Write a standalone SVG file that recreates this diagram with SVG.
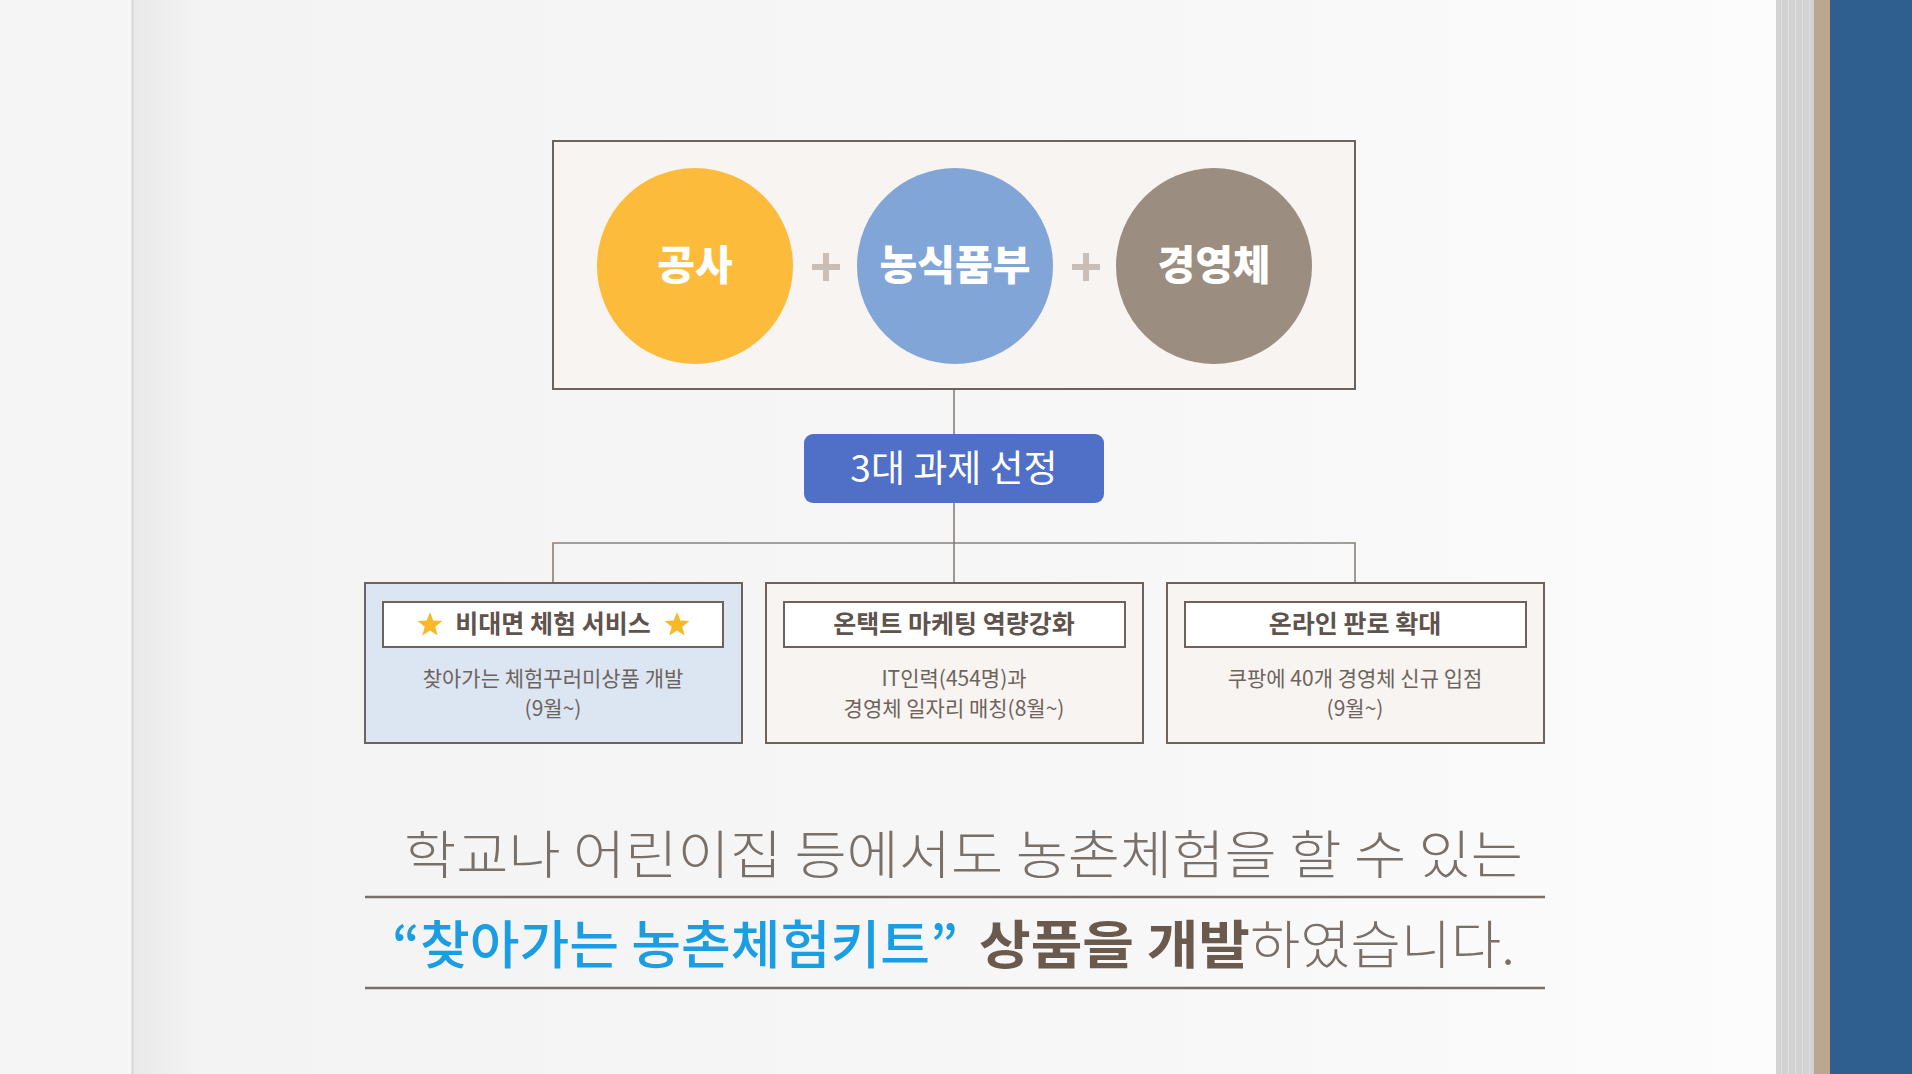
<svg xmlns="http://www.w3.org/2000/svg" width="1912" height="1074" viewBox="0 0 1912 1074">
<defs>
<style>
.ko{font-family:"Noto Sans CJK KR","Noto Sans",sans-serif}
.circ{font-weight:900;font-size:41px;fill:#ffffff;text-anchor:middle}
.frame{fill:#f8f4f1;stroke:#6e625c;stroke-width:2}
.inner{fill:#ffffff;stroke:#6e625c;stroke-width:2}
.title{font-weight:700;font-size:25px;fill:#5e534d;text-anchor:middle}
.body{font-weight:400;font-size:21px;fill:#6e635c;text-anchor:middle}
.conn{fill:none;stroke:#8a7f78;stroke-width:1.6}
.plus{stroke:#c9beb5;stroke-width:6;stroke-linecap:butt}
.star{fill:#f7b928}
.rule{stroke:#7a6e67;stroke-width:2.5}
</style>
<linearGradient id="pageg" x1="0" y1="0" x2="1" y2="0">
<stop offset="0" stop-color="#e9e9e9"/>
<stop offset="0.04" stop-color="#f3f3f3"/>
<stop offset="0.6" stop-color="#f7f7f7"/>
<stop offset="1" stop-color="#fcfcfc"/>
</linearGradient>
</defs>

<!-- background -->
<rect x="0" y="0" width="1912" height="1074" fill="#f5f5f5"/>
<rect x="132" y="0" width="1644" height="1074" fill="url(#pageg)"/>
<line x1="132.5" y1="0" x2="132.5" y2="1074" stroke="#d6d6d6" stroke-width="2"/>
<rect x="1776" y="0" width="38" height="1074" fill="#d2d2d2"/>
<g stroke="#e0e0e0" stroke-width="1">
<line x1="1781.5" y1="0" x2="1781.5" y2="1074"/>
<line x1="1788.5" y1="0" x2="1788.5" y2="1074"/>
<line x1="1795.5" y1="0" x2="1795.5" y2="1074"/>
<line x1="1802.5" y1="0" x2="1802.5" y2="1074"/>
<line x1="1809.5" y1="0" x2="1809.5" y2="1074"/>
</g>
<rect x="1814" y="0" width="16" height="1074" fill="#b9a88f"/>
<rect x="1830" y="0" width="82" height="1074" fill="#2f5f8f"/>

<!-- connectors -->
<g id="connectors" class="conn">
<line x1="954" y1="389" x2="954" y2="434"/>
<line x1="954" y1="503" x2="954" y2="584"/>
<polyline points="553,584 553,543 1355,543 1355,584"/>
</g>

<!-- top box -->
<g id="partners">
<rect class="frame" x="553" y="141" width="802" height="248"/>
<line class="plus" x1="812" y1="267" x2="840" y2="267"/>
<line class="plus" x1="826" y1="253" x2="826" y2="281"/>
<line class="plus" x1="1072" y1="267" x2="1100" y2="267"/>
<line class="plus" x1="1086" y1="253" x2="1086" y2="281"/>
</g>
<g id="node-gongsa">
<circle cx="695" cy="266" r="98" fill="#fdbb3b"/>
<text class="ko circ" x="695" y="280">공사</text>
</g>
<g id="node-ministry">
<circle cx="955" cy="266" r="98" fill="#82a5d8"/>
<text class="ko circ" x="955" y="280">농식품부</text>
</g>
<g id="node-farm">
<circle cx="1214" cy="266" r="98" fill="#9b8d80"/>
<text class="ko circ" x="1214" y="280">경영체</text>
</g>

<!-- label -->
<g id="node-tasks">
<rect x="804" y="434" width="300" height="69" rx="9" fill="#4f70c6"/>
<text class="ko" x="954" y="482" font-size="37" font-weight="400" fill="#ffffff" text-anchor="middle">3대 과제 선정</text>
</g>

<!-- task boxes -->
<g id="node-task1">
<rect x="365" y="583" width="377" height="160" fill="#dce6f3" stroke="#6e625c" stroke-width="2"/>
<rect class="inner" x="383" y="602" width="340" height="45"/>
<polygon class="star" points="430,612 433.3,620.5 442.4,621 435.3,626.7 437.7,635.5 430,630.5 422.3,635.5 424.7,626.7 417.6,621 426.7,620.5"/>
<polygon class="star" points="677,612 680.3,620.5 689.4,621 682.3,626.7 684.7,635.5 677,630.5 669.3,635.5 671.7,626.7 664.6,621 673.7,620.5"/>
<text class="ko title" x="553" y="633">비대면 체험 서비스</text>
<text class="ko body" x="553" y="686">찾아가는 체험꾸러미상품 개발</text>
<text class="ko body" x="553" y="716">(9월~)</text>
</g>
<g id="node-task2">
<rect class="frame" x="766" y="583" width="377" height="160"/>
<rect class="inner" x="784" y="602" width="341" height="45"/>
<text class="ko title" x="954" y="633">온택트 마케팅 역량강화</text>
<text class="ko body" x="954" y="686">IT인력(454명)과</text>
<text class="ko body" x="954" y="716">경영체 일자리 매칭(8월~)</text>
</g>
<g id="node-task3">
<rect class="frame" x="1167" y="583" width="377" height="160"/>
<rect class="inner" x="1185" y="602" width="341" height="45"/>
<text class="ko title" x="1355" y="633">온라인 판로 확대</text>
<text class="ko body" x="1355" y="686">쿠팡에 40개 경영체 신규 입점</text>
<text class="ko body" x="1355" y="716">(9월~)</text>
</g>

<!-- caption -->
<g id="caption">
<text class="ko" x="404" y="874" font-size="52" font-weight="300" fill="#7a706a" textLength="1119" lengthAdjust="spacingAndGlyphs">학교나 어린이집 등에서도 농촌체험을 할 수 있는</text>
<line class="rule" x1="365" y1="897" x2="1545" y2="897"/>
<text class="ko" x="392" y="964" font-size="52" font-weight="500" fill="#1a9de2" textLength="566" lengthAdjust="spacingAndGlyphs">“찾아가는 농촌체험키트”</text>
<text class="ko" x="979" y="964" font-size="52" font-weight="700" fill="#6a5a4e" textLength="271" lengthAdjust="spacingAndGlyphs">상품을 개발</text>
<text class="ko" x="1250" y="964" font-size="52" font-weight="300" fill="#7a706a" textLength="265" lengthAdjust="spacingAndGlyphs">하였습니다.</text>
<line class="rule" x1="365" y1="988" x2="1545" y2="988"/>
</g>
</svg>
